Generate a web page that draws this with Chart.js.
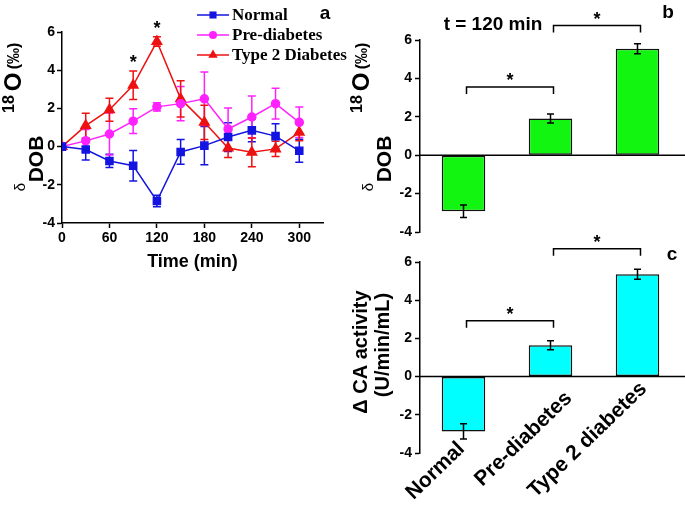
<!DOCTYPE html>
<html>
<head>
<meta charset="utf-8">
<script src="https://cdn.jsdelivr.net/npm/chart.js@4.4.1/dist/chart.umd.min.js"></script>
<style>
  html, body { margin: 0; padding: 0; background: #fff; }
  body { width: 685px; height: 507px; position: relative; overflow: hidden; }
  canvas { position: absolute; }
</style>
</head>
<body>
<canvas id="chartA" width="350" height="280" style="left:0;top:0"></canvas>
<canvas id="chartB" width="345" height="245" style="left:340px;top:0"></canvas>
<canvas id="chartC" width="345" height="282" style="left:340px;top:225px"></canvas>
<script>
// panel a - time course
const times = [0, 30, 60, 90, 120, 150, 180, 210, 240, 270, 300];
const normalVals = [0, -0.15, -0.75, -1.0, -2.85, -0.28, 0.05, 0.5, 0.85, 0.55, -0.22];
const normalErr  = [0, 0.55, 0.35, 0.8, 0.3, 0.65, 1.0, 0.75, 0.6, 0.65, 0.6];
const preVals = [0, 0.3, 0.66, 1.33, 2.08, 2.25, 2.5, 0.92, 1.55, 2.25, 1.27];
const preErr  = [0, 0.6, 1.1, 0.65, 0.22, 0.9, 1.4, 1.1, 1.1, 0.8, 0.8];
const t2Vals = [0, 1.1, 1.93, 3.21, 5.5, 2.5, 1.27, -0.07, -0.3, -0.12, 0.75];
const t2Err  = [0, 0.65, 0.6, 0.75, 0.25, 0.95, 0.9, 0.5, 0.75, 0.4, 0.45];
const starTimes = [90, 120];
const timeTicks = [0, 60, 120, 180, 240, 300];
const yTicks = [-4, -2, 0, 2, 4, 6];

// panels b and c - group bars
const groups = ['Normal', 'Pre-diabetes', 'Type 2 diabetes'];
const dobVals = [-2.92, 1.91, 5.54];
const dobErr  = [0.33, 0.23, 0.26];
const caVals = [-2.87, 1.64, 5.36];
const caErr  = [0.4, 0.24, 0.26];
const dobBrackets = [[0, 1, 3.55], [1, 2, 6.75]];
const caBrackets  = [[0, 1, 2.92], [1, 2, 6.7]];

Chart.defaults.font.family = 'Arial, "Liberation Sans", sans-serif';
Chart.defaults.color = '#000';

const SANS = 'Arial, "Liberation Sans", sans-serif';
const SERIF = '"Times New Roman", "Liberation Serif", serif';

function setTicks(list) {
  return s => { s.ticks = list.map(v => ({ value: v })); };
}

function errorBars(errList, colors, cap, before) {
  const draw = chart => {
    const ctx = chart.ctx, ys = chart.scales.y;
    chart.data.datasets.forEach((ds, di) => {
      const meta = chart.getDatasetMeta(di);
      ctx.save();
      ctx.strokeStyle = colors[di];
      ctx.lineWidth = 1.5;
      meta.data.forEach((el, i) => {
        const e = errList[di][i];
        if (!e) return;
        const raw = ds.data[i];
        const v = typeof raw === 'object' ? raw.y : raw;
        const y1 = ys.getPixelForValue(v + e), y2 = ys.getPixelForValue(v - e);
        ctx.beginPath();
        ctx.moveTo(el.x, y1); ctx.lineTo(el.x, y2);
        ctx.moveTo(el.x - cap, y1); ctx.lineTo(el.x + cap, y1);
        ctx.moveTo(el.x - cap, y2); ctx.lineTo(el.x + cap, y2);
        ctx.stroke();
      });
      ctx.restore();
    });
  };
  return before ? { id: 'errbars', beforeDatasetsDraw: draw } : { id: 'errbars', afterDatasetsDraw: draw };
}

function rotatedText(pieces) {
  return {
    id: 'rotText',
    afterDraw(chart) {
      const ctx = chart.ctx;
      pieces.forEach(p => {
        ctx.save();
        ctx.translate(p.x, p.y);
        ctx.rotate(p.angle === undefined ? -Math.PI / 2 : p.angle);
        ctx.font = p.font;
        ctx.fillStyle = '#000';
        ctx.textAlign = 'center';
        ctx.textBaseline = 'middle';
        ctx.fillText(p.text, 0, 0);
        ctx.restore();
      });
    }
  };
}

function zeroLine() {
  return {
    id: 'zeroLine',
    afterDatasetsDraw(chart) {
      const ctx = chart.ctx, y = chart.scales.y.getPixelForValue(0);
      ctx.save();
      ctx.strokeStyle = '#000';
      ctx.lineWidth = 1.5;
      ctx.beginPath();
      ctx.moveTo(chart.chartArea.left, y);
      ctx.lineTo(chart.width, y);
      ctx.stroke();
      ctx.restore();
    }
  };
}

function brackets(list) {
  return {
    id: 'brackets',
    afterDraw(chart) {
      const ctx = chart.ctx, xs = chart.scales.x, ys = chart.scales.y;
      ctx.save();
      ctx.strokeStyle = '#000';
      ctx.lineWidth = 1.5;
      ctx.fillStyle = '#000';
      ctx.font = 'bold 18px ' + SANS;
      ctx.textAlign = 'center';
      ctx.textBaseline = 'middle';
      list.forEach(([a, b, level]) => {
        const x1 = xs.getPixelForValue(a) + 3, x2 = xs.getPixelForValue(b) + 3;
        const y = ys.getPixelForValue(level);
        ctx.beginPath();
        ctx.moveTo(x1, y + 7); ctx.lineTo(x1, y); ctx.lineTo(x2, y); ctx.lineTo(x2, y + 7);
        ctx.stroke();
        ctx.fillText('*', (x1 + x2) / 2, y - 6);
      });
      ctx.restore();
    }
  };
}

// slanted group names under panel c, placed like the original figure
const slantLabels = {
  id: 'slantLabels',
  afterDraw(chart) {
    const ctx = chart.ctx, xs = chart.scales.x;
    const dx = [-28, -27, -50], yc = [246, 214, 215];
    ctx.save();
    ctx.font = 'bold 21px ' + SANS;
    ctx.fillStyle = '#000';
    ctx.textAlign = 'center';
    ctx.textBaseline = 'middle';
    groups.forEach((g, i) => {
      ctx.save();
      ctx.translate(xs.getPixelForValue(i) + dx[i], yc[i]);
      ctx.rotate(-44 * Math.PI / 180);
      ctx.fillText(g, 0, 0);
      ctx.restore();
    });
    ctx.restore();
  }
};

function markerPath(ctx, style, x, y, r) {
  ctx.beginPath();
  if (style === 'rect') {
    const s = r * Math.SQRT1_2;
    ctx.rect(x - s, y - s, 2 * s, 2 * s);
  } else if (style === 'triangle') {
    ctx.moveTo(x, y - r);
    ctx.lineTo(x + r * 0.866, y + r * 0.5);
    ctx.lineTo(x - r * 0.866, y + r * 0.5);
    ctx.closePath();
  } else {
    ctx.arc(x, y, r, 0, Math.PI * 2);
  }
}

const legendA = {
  id: 'legendA',
  afterDraw(chart) {
    const ctx = chart.ctx;
    ctx.save();
    chart.data.datasets.forEach((ds, i) => {
      const y = 15 + i * 20;
      ctx.strokeStyle = ds.borderColor;
      ctx.lineWidth = 1.5;
      ctx.beginPath(); ctx.moveTo(197, y); ctx.lineTo(229, y); ctx.stroke();
      ctx.fillStyle = ds.borderColor;
      markerPath(ctx, ds.pointStyle, 213, y, ds.pointRadius);
      ctx.fill();
      ctx.fillStyle = '#000';
      ctx.font = 'bold 17px ' + SERIF;
      ctx.textAlign = 'left';
      ctx.textBaseline = 'middle';
      ctx.fillText(ds.label, 232, y + 1);
    });
    ctx.font = 'bold 19px ' + SANS;
    ctx.textAlign = 'center';
    ctx.fillText('a', 325, 14);
    // significance stars over the type 2 series
    const xs = chart.scales.x, ys = chart.scales.y;
    ctx.font = 'bold 18px ' + SANS;
    starTimes.forEach(t => {
      const i = times.indexOf(t);
      const yTop = ys.getPixelForValue(t2Vals[i] + t2Err[i]);
      ctx.fillText('*', xs.getPixelForValue(t), yTop - 8);
    });
    ctx.restore();
  }
};

const colN = '#1414e0', colP = '#ff22ff', colT = '#ee1111';

function axisStyle() {
  return {
    grid: { display: true, drawOnChartArea: false, drawTicks: true, tickLength: 5, tickColor: '#000', tickWidth: 1.5 },
    border: { display: true, color: '#000', width: 1.5 }
  };
}

new Chart(document.getElementById('chartA'), {
  type: 'line',
  data: {
    datasets: [
      { label: 'Normal', data: times.map((t, i) => ({ x: t, y: normalVals[i] })),
        borderColor: colN, backgroundColor: colN, pointStyle: 'rect', pointRadius: 5, borderWidth: 1.5 },
      { label: 'Pre-diabetes', data: times.map((t, i) => ({ x: t, y: preVals[i] })),
        borderColor: colP, backgroundColor: colP, pointStyle: 'circle', pointRadius: 4, borderWidth: 1.5 },
      { label: 'Type 2 Diabetes', data: times.map((t, i) => ({ x: t, y: t2Vals[i] })),
        borderColor: colT, backgroundColor: colT, pointStyle: 'triangle', pointRadius: 5.5, borderWidth: 1.5 }
    ]
  },
  options: {
    responsive: false, animation: false, devicePixelRatio: 1,
    layout: { padding: { left: 0, top: 32, right: 27, bottom: 0 } },
    plugins: { legend: { display: false }, tooltip: { enabled: false } },
    scales: {
      x: { type: 'linear', min: 0, max: 330, ...axisStyle(),
        afterBuildTicks: setTicks(timeTicks),
        afterFit: s => { s.height = 57; },
        ticks: { font: { size: 14, weight: 'bold' }, padding: 2, maxRotation: 0 },
        title: { display: true, text: 'Time (min)', font: { size: 18, weight: 'bold' }, padding: { top: 0, bottom: 7 } } },
      y: { type: 'linear', min: -4, max: 6, ...axisStyle(),
        afterBuildTicks: setTicks(yTicks),
        afterFit: s => { s.width = 62; },
        ticks: { font: { size: 14, weight: 'bold' }, padding: 2 } }
    }
  },
  plugins: [
    errorBars([normalErr, preErr, t2Err], [colN, colP, colT], 4, true),
    legendA,
    rotatedText([
      { text: '\u03b4', x: 21, y: 187, font: '15px ' + SANS },
      { text: 'DOB', x: 37, y: 159, font: 'bold 21px ' + SANS },
      { text: '18', x: 10, y: 104, font: 'bold 16px ' + SANS },
      { text: 'O', x: 14, y: 82, font: 'bold 24px ' + SANS },
      { text: '(\u2030)', x: 15, y: 56, font: 'bold 16px ' + SANS }
    ])
  ]
});

function barChart(id, values, errs, fill, padTop, padBottom, extra) {
  return new Chart(document.getElementById(id), {
    type: 'bar',
    data: {
      labels: groups,
      datasets: [{ data: values, backgroundColor: fill, borderColor: '#111', borderWidth: 1.5,
        borderSkipped: false, barPercentage: 0.5, categoryPercentage: 1.0 }]
    },
    options: {
      responsive: false, animation: false, devicePixelRatio: 1,
      layout: { padding: { left: 0, top: padTop, right: 4, bottom: padBottom } },
      plugins: { legend: { display: false }, tooltip: { enabled: false } },
      scales: {
        x: { display: false },
        y: { min: -4, max: 6, ...axisStyle(),
          afterBuildTicks: setTicks(yTicks),
          afterFit: s => { s.width = 80; },
          ticks: { font: { size: 14, weight: 'bold' }, padding: 3 } }
      }
    },
    plugins: [zeroLine(), errorBars([errs], ['#000'], 3.5, false)].concat(extra)
  });
}

barChart('chartB', dobVals, dobErr, '#11f511', 40, 13, [
  brackets(dobBrackets),
  rotatedText([
    { text: '\u03b4', x: 29, y: 187, font: '15px ' + SANS },
    { text: 'DOB', x: 45, y: 159, font: 'bold 21px ' + SANS },
    { text: '18', x: 18, y: 104, font: 'bold 16px ' + SANS },
    { text: 'O', x: 22, y: 82, font: 'bold 24px ' + SANS },
    { text: '(\u2030)', x: 23, y: 56, font: 'bold 16px ' + SANS },
    { text: 't = 120 min', x: 153, y: 25, angle: 0, font: 'bold 19px ' + SANS },
    { text: 'b', x: 328, y: 13, angle: 0, font: 'bold 19px ' + SANS }
  ])
]);

barChart('chartC', caVals, caErr, '#00ffff', 37, 54, [
  brackets(caBrackets),
  slantLabels,
  rotatedText([
    { text: '\u0394 CA activity', x: 21, y: 127, font: 'bold 20px ' + SANS },
    { text: '(U/min/mL)', x: 43, y: 120, font: 'bold 20px ' + SANS },
    { text: 'c', x: 332, y: 30, angle: 0, font: 'bold 19px ' + SANS }
  ])
]);
</script>
</body>
</html>
